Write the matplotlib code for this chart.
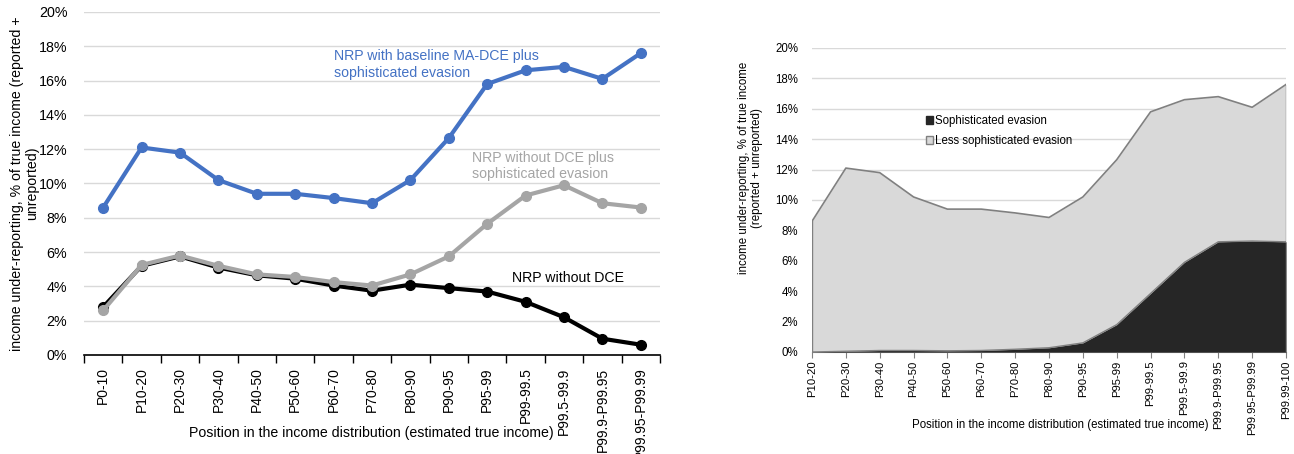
import numpy as np
import matplotlib
matplotlib.use("Agg")
import matplotlib.pyplot as plt
from matplotlib.patches import Patch

plt.rcParams["font.family"] = ["Liberation Sans", "DejaVu Sans"]

# Left chart data
left_cats = ["P0-10", "P10-20", "P20-30", "P30-40", "P40-50", "P50-60", "P60-70",
             "P70-80", "P80-90", "P90-95", "P95-99", "P99-99.5", "P99.5-99.9",
             "P99.9-P99.95", "P99.95-P99.99"]
nrp_ma_dce_soph = [8.6, 12.1, 11.8, 10.2, 9.4, 9.4, 9.15, 8.85, 10.2, 12.65,
                   15.8, 16.6, 16.8, 16.1, 17.6]
nrp_no_dce_soph = [2.6, 5.25, 5.8, 5.2, 4.7, 4.55, 4.25, 4.05, 4.7, 5.75,
                   7.65, 9.3, 9.9, 8.85, 8.6]
nrp_no_dce = [2.8, 5.2, 5.75, 5.1, 4.65, 4.45, 4.05, 3.75, 4.1, 3.9,
              3.7, 3.1, 2.2, 0.95, 0.6]

# Right chart data
right_cats = ["P10-20", "P20-30", "P30-40", "P40-50", "P50-60", "P60-70", "P70-80",
              "P80-90", "P90-95", "P95-99", "P99-99.5", "P99.5-99.9", "P99.9-P99.95",
              "P99.95-P99.99", "P99.99-100"]
total_evasion = [8.6, 12.1, 11.8, 10.2, 9.4, 9.4, 9.15, 8.85, 10.2, 12.65,
                 15.8, 16.6, 16.8, 16.1, 17.6]
soph_evasion = [0.0, 0.05, 0.1, 0.1, 0.08, 0.1, 0.18, 0.28, 0.6, 1.8,
                3.85, 5.9, 7.25, 7.3, 7.25]

W, H = 1294, 454
fig = plt.figure(figsize=(W / 100, H / 100), dpi=100)

# ---- left chart ----
ax = fig.add_axes([84 / W, 1 - 355 / H, 576 / W, 343 / H])
x = np.arange(len(left_cats))
ax.plot(x, nrp_no_dce, color="black", lw=3, marker="o", ms=7, zorder=3)
ax.plot(x, nrp_no_dce_soph, color="#a5a5a5", lw=3, marker="o", ms=7, zorder=4)
ax.plot(x, nrp_ma_dce_soph, color="#4472c4", lw=3, marker="o", ms=7, zorder=5)

ax.set_ylim(0, 20)
ax.set_xlim(-0.5, 14.12)
ax.set_yticks(np.arange(0, 21, 2))
ax.set_yticklabels([f"{v}%" for v in range(0, 21, 2)], fontsize=10.3)
ax.set_xticks(x)
ax.set_xticklabels(left_cats, rotation=90, fontsize=10)
ax.set_xticks(np.arange(-0.5, 15, 1), minor=True)
ax.tick_params(axis="x", which="major", length=0, pad=9)
ax.tick_params(axis="x", which="minor", length=6, color="black", width=1)
ax.tick_params(axis="y", length=0, pad=12)
ax.grid(axis="y", color="#d9d9d9", lw=1)
ax.set_axisbelow(True)
for s in ["left", "right", "top"]:
    ax.spines[s].set_visible(False)
ax.spines["bottom"].set_color("black")
ax.spines["bottom"].set_linewidth(1.2)
ax.set_ylabel("income under-reporting, % of true income (reported +\nunreported)",
              fontsize=10.2, linespacing=1.1)
ax.yaxis.set_label_coords(-0.078, 0.5)
fig.text(371 / W, 1 - 433 / H, "Position in the income distribution (estimated true income)",
         fontsize=10.2, ha="center", va="center")

ax.text(6.0, 16.94, "NRP with baseline MA-DCE plus\nsophisticated evasion",
        color="#4472c4", fontsize=10.2, va="center")
ax.text(9.6, 11.0, "NRP without DCE plus\nsophisticated evasion",
        color="#a5a5a5", fontsize=10.2, va="center")
ax.text(10.65, 4.49, "NRP without DCE", color="black", fontsize=10.2, va="center")

# ---- right chart ----
ax2 = fig.add_axes([812 / W, 1 - 352 / H, 474 / W, 304 / H])
xr = np.arange(len(right_cats))
ax2.fill_between(xr, 0, total_evasion, color="#d9d9d9", lw=0, zorder=2)
ax2.fill_between(xr, 0, soph_evasion, color="#262626", lw=0, zorder=3)
ax2.plot(xr, total_evasion, color="#808080", lw=1.2, zorder=4)
ax2.plot(xr, soph_evasion, color="#808080", lw=1, zorder=4)
ax2.plot([0, 0], [0, total_evasion[0]], color="#808080", lw=1, zorder=4)
ax2.plot([14, 14], [0, total_evasion[-1]], color="#808080", lw=1, zorder=4)

ax2.set_ylim(0, 20)
ax2.set_xlim(0, 14)
ax2.set_yticks(np.arange(0, 21, 2))
ax2.set_yticklabels([f"{v}%" for v in range(0, 21, 2)], fontsize=8.3)
ax2.set_xticks(xr)
ax2.set_xticklabels(right_cats, rotation=90, fontsize=8.1)
ax2.tick_params(axis="x", length=4, color="#808080", pad=2)
ax2.tick_params(axis="y", length=0, pad=10)
ax2.grid(axis="y", color="#d9d9d9", lw=1, zorder=0)
ax2.set_axisbelow(True)
for s in ["left", "right", "top"]:
    ax2.spines[s].set_visible(False)
ax2.spines["bottom"].set_color("#808080")
ax2.set_ylabel("income under-reporting, % of true income\n(reported + unreported)",
               fontsize=8.3, linespacing=1.1)
ax2.yaxis.set_label_coords(-0.103, 0.605)
fig.text(1060 / W, 1 - 425 / H, "Position in the income distribution (estimated true income)",
         fontsize=8.3, ha="center", va="center")

handles = [Patch(facecolor="#262626", edgecolor="#262626"),
           Patch(facecolor="#d9d9d9", edgecolor="#808080")]
ax2.legend(handles, ["Sophisticated evasion", "Less sophisticated evasion"],
           loc="upper left", bbox_to_anchor=(0.23, 0.795), frameon=False,
           fontsize=8.3, handlelength=0.6, handleheight=0.6, handletextpad=0.2,
           labelspacing=0.7, borderaxespad=0)

fig.savefig("out.png", dpi=100, facecolor="white")
